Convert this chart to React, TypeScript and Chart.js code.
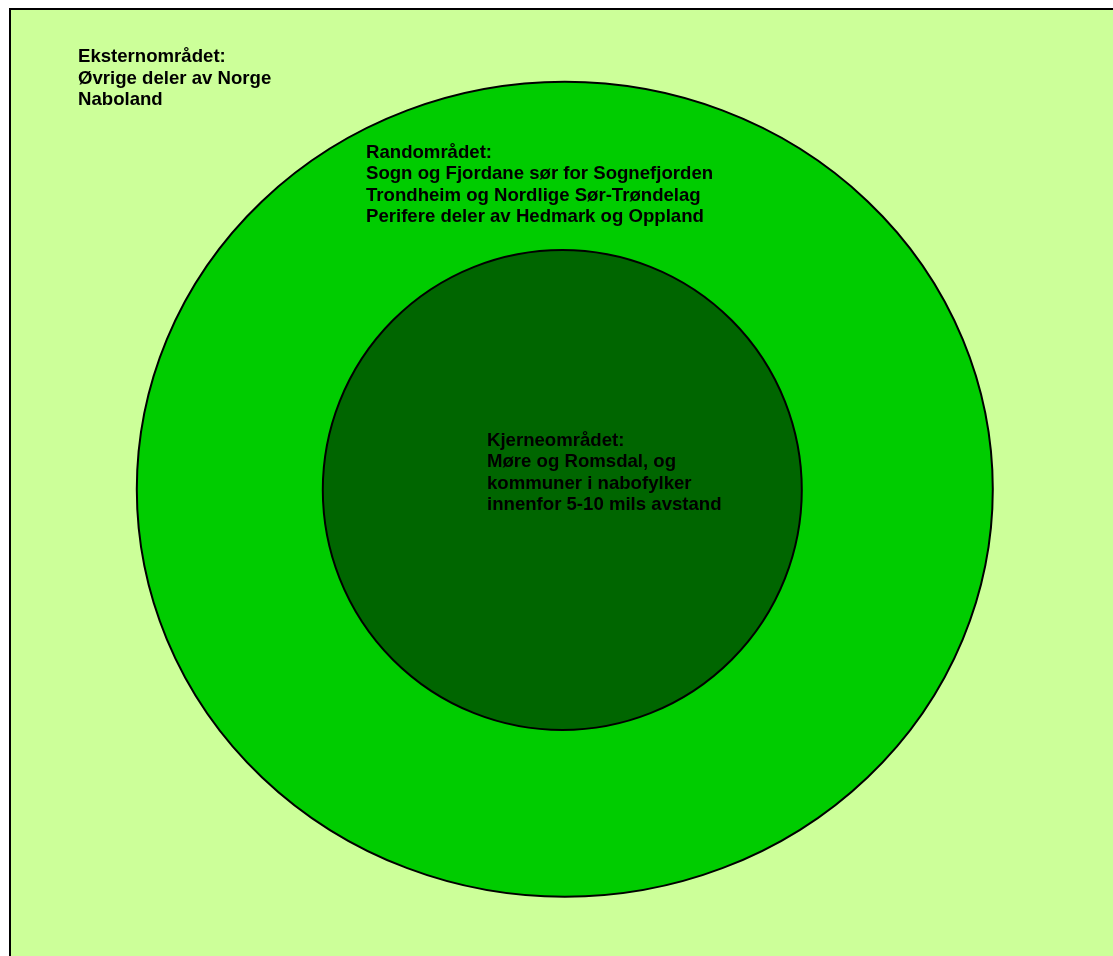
import React, { useEffect, useRef } from 'react';
import { Chart, registerables } from 'chart.js';

Chart.register(...registerables);

// Zone names and descriptive text
const zoneTitles = ['Eksternområdet:', 'Randområdet:', 'Kjerneområdet:'];
const eksternLines = ['Øvrige deler av Norge', 'Naboland'];
const randLines = [
  'Sogn og Fjordane sør for Sognefjorden',
  'Trondheim og Nordlige Sør-Trøndelag',
  'Perifere deler av Hedmark og Oppland',
];
const kjerneLines = ['Møre og Romsdal, og', 'kommuner i nabofylker', 'innenfor 5-10 mils avstand'];

// Zone shapes in axis units: outer frame, middle ring, core
const frameX = [10, 1125];
const frameY = [9, 970];
const ellipseCenterX = [564.8, 562.3];
const ellipseCenterY = [489.3, 490];
const ellipseRadiusX = [428, 239.5];
const ellipseRadiusY = [407.5, 240];

// Label anchors (axis units)
const labelX = [78, 366, 487];
const labelY = [62, 157.5, 445.5];

const FONT = 'bold 18.6px "Liberation Sans", Arial, sans-serif';
const LINE_H = 21.6;

const zonesPlugin = {
  id: 'zones',
  beforeDatasetsDraw(chart: any) {
    const { ctx, scales } = chart;
    const xs = scales.x;
    const ys = scales.y;
    ctx.save();
    // outer frame (Eksternområdet)
    const x0 = xs.getPixelForValue(frameX[0]);
    const x1 = xs.getPixelForValue(frameX[1]);
    const y0 = ys.getPixelForValue(frameY[0]);
    const y1 = ys.getPixelForValue(frameY[1]);
    ctx.fillStyle = '#CCFF99';
    ctx.fillRect(x0, y0, x1 - x0, y1 - y0);
    ctx.strokeStyle = '#000000';
    ctx.lineWidth = 2;
    ctx.strokeRect(x0, y0, x1 - x0, y1 - y0);
    const fills = ['#00CC00', '#006600'];
    for (let i = 0; i < ellipseCenterX.length; i++) {
      const cx = xs.getPixelForValue(ellipseCenterX[i]);
      const cy = ys.getPixelForValue(ellipseCenterY[i]);
      const rx = Math.abs(xs.getPixelForValue(ellipseCenterX[i] + ellipseRadiusX[i]) - cx);
      const ry = Math.abs(ys.getPixelForValue(ellipseCenterY[i] + ellipseRadiusY[i]) - cy);
      ctx.beginPath();
      ctx.ellipse(cx, cy, rx, ry, 0, 0, Math.PI * 2);
      ctx.fillStyle = fills[i];
      ctx.fill();
      ctx.lineWidth = 2;
      ctx.strokeStyle = '#000000';
      ctx.stroke();
    }
    ctx.restore();
  },
  afterDatasetsDraw(chart: any) {
    const { ctx, scales } = chart;
    const xs = scales.x;
    const ys = scales.y;
    const blocks = [
      [zoneTitles[0], ...eksternLines],
      [zoneTitles[1], ...randLines],
      [zoneTitles[2], ...kjerneLines],
    ];
    ctx.save();
    ctx.font = FONT;
    ctx.fillStyle = '#000000';
    ctx.textAlign = 'left';
    ctx.textBaseline = 'alphabetic';
    blocks.forEach((lines, i) => {
      const px = xs.getPixelForValue(labelX[i]);
      const py = ys.getPixelForValue(labelY[i]);
      lines.forEach((t, j) => ctx.fillText(t, px, py + j * LINE_H));
    });
    ctx.restore();
  },
};

export default function App() {
  const ref = useRef<HTMLCanvasElement | null>(null);
  useEffect(() => {
    if (!ref.current) return;
    const chart = new Chart(ref.current, {
      type: 'scatter',
      data: {
        datasets: zoneTitles.map((t, i) => ({
          label: t,
          data: [{ x: labelX[i], y: labelY[i] }],
          pointRadius: 0,
          pointHoverRadius: 0,
        })),
      },
      options: {
        responsive: false,
        animation: false,
        devicePixelRatio: 1,
        layout: { padding: 0 },
        plugins: { legend: { display: false }, tooltip: { enabled: false } },
        scales: {
          x: { type: 'linear', min: 0, max: 1113, display: false },
          y: { type: 'linear', min: 0, max: 956, reverse: true, display: false },
        },
      },
      plugins: [zonesPlugin],
    });
    return () => chart.destroy();
  }, []);
  return (
    <canvas
      ref={ref}
      width={1113}
      height={956}
      style={{ position: 'fixed', left: 0, top: 0, width: 1113, height: 956 }}
    />
  );
}
